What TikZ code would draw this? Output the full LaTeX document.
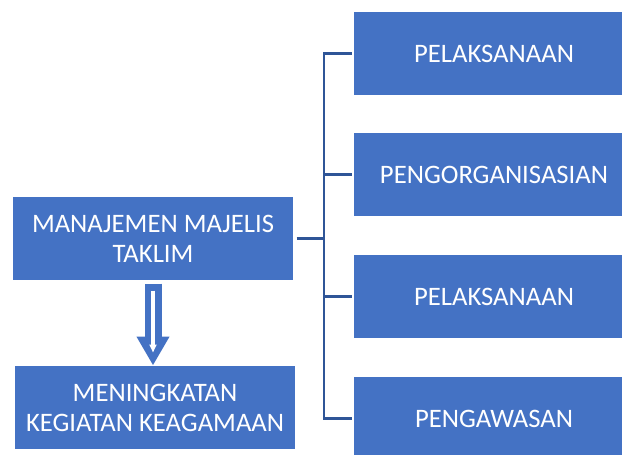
\documentclass[tikz,border=0pt]{standalone}
\usepackage{fontspec}
\setmainfont{Carlito}
\usetikzlibrary{arrows.meta}

\definecolor{boxblue}{RGB}{68,114,196}
\definecolor{lineblue}{RGB}{47,85,151}

\tikzset{every picture/.style={line width=0.75pt}}
\tikzset{
  blok/.style={fill=boxblue, draw=none, text=white, minimum width=210pt, minimum height=62.25pt,
    inner sep=0pt, align=center, font=\fontsize{20}{22.5}\selectfont},
  garis/.style={draw=lineblue, line width=2pt}
}

\begin{document}
\begin{tikzpicture}[x=0.75pt,y=0.75pt,yscale=-1,xscale=1]
	\clip (0,0) rectangle (622,454);
	\fill[white] (0,0) rectangle (622,454);

	%Shape: Rectangle [id:manajemen]
	\node[blok] (manajemen) at (153,238.5) {MANAJEMEN MAJELIS\\TAKLIM};
	%Shape: Rectangle [id:meningkatan]
	\node[blok] (meningkatan) at (155,407.5) {MENINGKATAN\\KEGIATAN KEAGAMAAN};

	%Shape: Rectangle [id:pelaksanaan1]
	\node[blok] (pelaksanaan1) at (494,53.5) {PELAKSANAAN};
	%Shape: Rectangle [id:pengorganisasian]
	\node[blok] (pengorganisasian) at (494,174.5) {PENGORGANISASIAN};
	%Shape: Rectangle [id:pelaksanaan2]
	\node[blok] (pelaksanaan2) at (494,296.5) {PELAKSANAAN};
	%Shape: Rectangle [id:pengawasan]
	\node[blok] (pengawasan) at (494,418.5) {PENGAWASAN};

	%Straight Lines [id:cabang]
	\coordinate (cabang) at (324,238.5);
	\draw[garis, shorten <=2.25pt] (manajemen.east) -- (cabang);
	\draw[garis, shorten <=1.5pt] (pelaksanaan1.west) -| (cabang) |- ([xshift=-1.5pt]pengawasan.west);
	\draw[garis, shorten <=1.5pt] (pengorganisasian.west) -- (pengorganisasian.west -| cabang);
	\draw[garis, shorten <=1.5pt] (pelaksanaan2.west) -- (pelaksanaan2.west -| cabang);

	%Block Arrow [id:panah]
	\draw[boxblue, line width=12.75pt, -{Triangle[length=21.75pt,width=23.25pt]}, shorten <=2.25pt]
		(manajemen.south) -- (manajemen.south |- meningkatan.north);
	\draw[white, line width=3pt, -{Triangle[length=6pt,width=5.25pt]}, shorten <=7.5pt, shorten >=9.75pt]
		(manajemen.south) -- (manajemen.south |- meningkatan.north);

\end{tikzpicture}
\end{document}
